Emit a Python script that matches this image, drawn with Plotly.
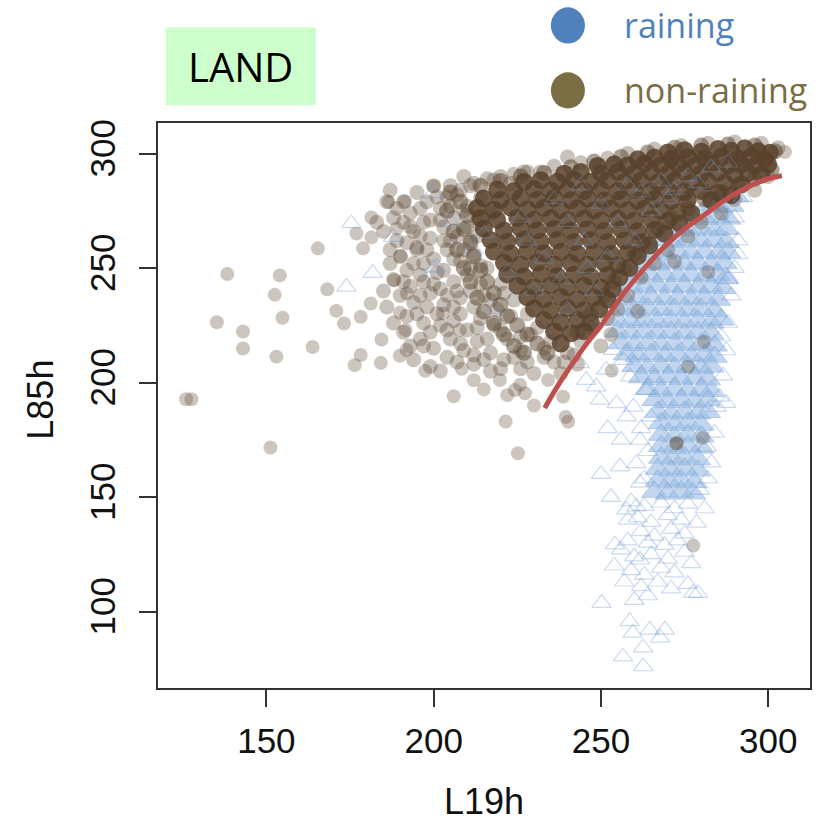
import plotly.graph_objects as go

# ---------------- data ----------------
# non-raining: isolated outliers
nr_sparse = [(126, 192.7), (127.6, 192.7), (135.2, 226.3), (138.3, 247.4), (143, 222.3), (143, 214.9),
             (151.2, 171.6), (152.5, 238.3), (153, 211.3), (154, 246.8), (154.8, 228.3), (163.8, 215.5),
             (165.4, 258.6), (168.2, 240.7), (170.9, 231.3), (173.2, 225.8), (176.4, 207.6), (176.9, 265.1),
             (178.2, 228.7), (178.2, 212), (178.9, 258.6), (181.2, 234.5), (181.4, 272.1), (181.4, 263.4),
             (184.2, 208.6), (184.4, 218.8), (186.5, 278.9), (188.2, 244.7), (188.9, 267.3), (189.9, 230.5),
             (189.9, 211.7), (190.2, 255.2), (191.4, 279.2), (191.6, 222.9), (191.9, 214.2), (192, 238.9),
             (197.5, 205.1), (200, 285.7), (202.8, 230.2), (207.8, 222.9), (208.4, 206), (219.8, 201.1),
             (221.5, 183), (224.3, 196.7), (225.2, 169.1), (227.3, 195.3), (234.2, 201.1), (238.7, 193.8),
             (240.2, 182.9), (239.5, 185), (253.2, 205.1), (276.1, 206.9), (282.1, 248.3), (280.8, 217.8),
             (305, 300.7), (277.6, 128.8), (280.5, 175.9), (272.6, 173.5), (272.6, 173.5), (212, 201),
             (215, 197), (222, 194.5), (225.8, 199), (206, 194), (230, 190)]

# non-raining: body of the cloud
nr_mid = [(186, 279), (191, 279), (195, 283), (200, 286), (204, 281), (208, 284), (212, 287), (216, 289),
          (220, 290), (224, 291), (188, 272), (193, 274), (197, 270), (202, 276), (206, 272), (210, 277),
          (213, 270), (185, 266), (189, 262), (194, 266), (199, 263), (203, 268), (207, 264), (211, 262),
          (190, 255), (195, 258), (200, 254), (204, 258), (208, 253), (212, 256), (188, 245), (192, 249),
          (197, 244), (201, 248), (206, 244), (210, 247), (214, 243), (190, 238), (194, 235), (199, 239),
          (203, 234), (208, 237), (212, 233), (192, 229), (197, 226), (201, 230), (206, 227), (210, 223),
          (214, 228), (191, 222), (196, 219), (200, 215), (205, 219), (209, 214), (213, 218), (217, 213),
          (194, 210), (199, 207), (204, 211), (212, 208), (217, 205), (221, 210), (226, 206),
          (207, 282), (207, 240), (198, 233), (195, 259), (210, 268), (203, 249), (209, 275), (205, 262),
          (228, 292), (236, 294.5), (244, 296), (252, 298), (258, 300), (266, 302), (274, 303.5),
          (282, 304.5), (290, 305), (298, 304.5), (303, 302.5), (240, 298.5), (218, 288.5), (211, 286),
          (218, 225), (222, 219), (226, 214), (229, 221), (233, 215), (236, 209), (240, 213), (244, 218),
          (247, 224), (250, 216), (253, 221), (219, 232), (224, 236), (228, 230), (230, 204), (238, 204),
          (243, 208), (215, 238), (220, 243), (216, 250), (258, 238), (262, 246), (266, 252), (270, 258),
          (276, 264), (280, 270), (286, 274), (290, 280), (296, 284), (300, 290), (255, 232), (252, 228),
          (261, 231), (272, 253),
          (183, 270), (187, 284), (196, 276), (201, 281), (205, 277), (199, 271), (192, 261), (197, 252),
          (202, 241), (206, 233), (211, 240), (214, 251), (209, 258), (203, 262), (196, 247), (193, 242),
          (187, 252), (186, 233), (195, 230), (199, 222), (204, 223), (208, 217), (212, 212), (216, 219),
          (220, 223), (223, 229), (217, 236), (221, 239), (213, 264), (217, 274), (214, 281), (209, 290),
          (205, 286), (223, 287), (232, 292), (227, 292), (215, 210), (220, 206), (224, 211), (228, 209),
          (233, 211), (226, 220), (231, 224), (235, 218), (239, 209), (242, 212),
          (189, 276), (193, 268), (198, 279), (202, 271), (206, 254), (198, 258), (194, 252), (191, 244),
          (196, 238), (200, 243), (204, 238), (208, 230), (202, 225), (197, 216), (193, 216), (188, 226),
          (185, 240), (187, 258), (191, 270), (196, 264), (211, 250), (213, 224), (207, 209), (202, 205)]

# non-raining: fringe of the dense core
nr_edge = [(205, 283), (208, 279), (210, 273), (209, 267), (211, 261), (212, 255), (214, 249), (216, 244),
           (218, 239), (220, 234), (222, 229), (225, 225), (228, 221), (231, 217), (234, 213), (204, 275),
           (206, 266), (207, 258), (209, 250), (211, 244), (213, 237), (215, 231), (218, 226), (221, 221),
           (224, 216), (227, 213), (214, 286), (220, 288), (226, 290), (233, 291.5), (241, 294), (248, 296.5),
           (256, 298.5), (264, 300.5), (272, 302.5), (280, 303.5), (288, 304), (296, 303.5), (302, 301),
           (243, 222), (247, 230), (251, 238), (254, 244), (257, 250), (260, 256), (263, 262), (267, 267),
           (271, 272), (276, 276), (281, 280), (286, 283), (291, 286), (296, 289), (301, 293)]

# non-raining: dark dense core
nr_core = [(270, 300.5), (275, 301.5), (280, 300.8), (285, 302), (289, 301.2), (293, 302.3), (297, 301), (300.5, 300.4),
           (261, 297.5), (266, 298.3), (271, 297.6), (276, 298.4), (281, 297.8), (286, 298.6), (291, 297.9), (295, 298.7), (299, 297.6),
           (249, 294.6), (254, 295.3), (258, 294.8), (263, 295.6), (268, 294.9), (273, 295.4), (278, 294.7), (283, 295.5),
           (288, 294.8), (292, 295.3), (296, 294.6), (300, 295.2),
           (239, 291.2), (244, 292), (250, 291.4), (255, 292.1), (260, 291.3), (265, 291.9), (270, 291.1), (275, 291.8),
           (280, 291.2), (285, 291.7), (290, 290.9), (294, 291.5), (298, 290.8),
           (227, 287.6), (232, 288.4), (237, 287.8), (242, 288.5), (247, 287.7), (252, 288.3), (257, 287.5), (262, 288.2),
           (267, 287.4), (272, 288.1), (277, 287.3), (282, 287.9), (287, 287.2), (292, 286.5),
           (219, 284.3), (224, 283.6), (230, 284.5), (235, 283.8), (240, 284.4), (245, 283.6), (250, 284.2), (255, 283.5),
           (260, 284.1), (265, 283.3), (270, 283.9), (275, 283.2), (280, 283.7), (285, 282.8), (289, 281.8),
           (215, 280.4), (220, 279.7), (226, 280.6), (231, 279.8), (236, 280.5), (241, 279.6), (246, 280.3), (251, 279.5),
           (256, 280.2), (261, 279.4), (266, 280.1), (271, 279.3), (276, 279.8), (283, 279.6),
           (213, 276.2), (218, 275.5), (223, 276.4), (228, 275.6), (233, 276.3), (238, 275.4), (243, 276.1), (248, 275.3),
           (253, 276), (258, 275.2), (263, 275.9), (268, 275.1), (273, 274.6), (277, 274),
           (214, 271.8), (219, 271), (225, 271.9), (230, 271.1), (235, 271.7), (240, 270.9), (245, 271.6), (250, 270.8),
           (255, 271.5), (260, 270.7), (265, 271.3), (270, 270.6), (273.5, 269.5),
           (215, 267.2), (221, 266.4), (226, 267.3), (231, 266.5), (236, 267.1), (241, 266.3), (246, 267), (251, 266.2),
           (256, 266.9), (261, 266.1), (266, 266.6), (269, 265),
           (217, 262.3), (222, 261.5), (227, 262.4), (232, 261.6), (237, 262.2), (242, 261.4), (247, 262.1), (252, 261.3),
           (257, 262), (262, 261.2), (264.5, 259.8),
           (218, 257.2), (223, 256.4), (228, 257.3), (233, 256.5), (238, 257.1), (243, 256.3), (248, 257), (253, 256.2),
           (258, 256.8), (261, 255.2),
           (221, 252.3), (226, 251.5), (231, 252.4), (236, 251.6), (241, 252.2), (246, 251.4), (251, 252.1), (255, 251.3), (258.5, 250),
           (222, 247.2), (227, 246.4), (232, 247.3), (237, 246.5), (242, 247.1), (247, 246.3), (252, 247), (255.5, 245.8),
           (225, 242.3), (230, 241.5), (235, 242.4), (240, 241.6), (245, 242.2), (250, 241.4), (253.5, 240.8),
           (228, 237.2), (233, 236.4), (238, 237.3), (243, 236.5), (248, 237.1), (252, 236.2),
           (230, 232.3), (235, 231.5), (240, 232.4), (245, 231.6), (249.5, 232),
           (233, 227.2), (238, 226.4), (243, 227.3), (247, 226.2),
           (236, 222.3), (241, 221.5), (245, 222.4), (238, 217)]

# raining: dense body
r_core = [(287, 282.5), (290.5, 281.3),
          (282, 277.4), (285.5, 276.6), (289, 277.2),
          (277, 272.3), (281, 271.5), (284.5, 272.4), (288, 271.6),
          (272, 267.2), (276, 266.4), (280, 267.3), (284, 266.5), (287.5, 267.1),
          (268, 262.3), (272, 261.5), (276, 262.4), (280, 261.6), (284, 262.2), (287.5, 261.4),
          (265, 257.2), (269, 256.4), (273, 257.3), (277, 256.5), (281, 257.1), (285, 256.3), (288, 257),
          (263, 252.3), (267, 251.5), (271, 252.4), (275, 251.6), (279, 252.2), (283, 251.4), (287, 252.1),
          (261, 247.2), (265, 246.4), (269, 247.3), (273, 246.5), (277, 247.1), (281, 246.3), (285, 247), (287.5, 245.8),
          (259, 242.3), (263, 241.5), (267, 242.4), (271, 241.6), (275, 242.2), (279, 241.4), (283, 242.1), (286.5, 241.3),
          (257, 237.2), (261, 236.4), (265, 237.3), (269, 236.5), (273, 237.1), (277, 236.3), (281, 237), (285, 236.2),
          (256, 232.3), (260, 231.5), (264, 232.4), (268, 231.6), (272, 232.2), (276, 231.4), (280, 232.1), (284, 231.3),
          (255, 227.2), (259, 226.4), (263, 227.3), (267, 226.5), (271, 227.1), (275, 226.3), (279, 227), (283, 226.2), (286, 227.5),
          (255, 222.3), (259, 221.5), (263, 222.4), (267, 221.6), (271, 222.2), (275, 221.4), (279, 222.1), (283, 221.3),
          (256, 217.2), (260, 216.4), (264, 217.3), (268, 216.5), (272, 217.1), (276, 216.3), (280, 217), (284, 216.2),
          (257.5, 212.3), (261, 211.5), (265, 212.4), (269, 211.6), (273, 212.2), (277, 211.4), (281, 212.1), (284, 211.3),
          (260, 207.2), (264, 206.4), (268, 207.3), (272, 206.5), (276, 207.1), (280, 206.3), (283, 207),
          (262, 202.3), (266, 201.5), (270, 202.4), (274, 201.6), (278, 202.2), (282, 201.4),
          (264, 197.2), (268, 196.4), (272, 197.3), (276, 196.5), (280, 197.1), (283, 196.3),
          (266, 192.3), (270, 191.5), (274, 192.4), (278, 191.6), (282, 192.2),
          (267, 187.2), (271, 186.4), (275, 187.3), (279, 186.5), (282, 187.1),
          (268, 182.3), (272, 181.5), (276, 182.4), (280, 181.6),
          (268, 177.2), (272, 176.4), (276, 177.3), (280, 176.5),
          (268, 172.3), (272, 171.5), (276, 172.4), (280, 171.6),
          (268, 167.2), (271.5, 166.4), (275, 167.3), (279, 166.5),
          (267, 162.3), (271, 161.5), (275, 162.4), (279, 161.6),
          (267, 157.2), (270.5, 156.4), (274, 157.3), (278, 156.5),
          (266, 152.3), (270, 151.5), (274, 152.4), (277.5, 151.6)]

# raining: scattered open triangles
r_sparse = [(259, 148), (263, 146), (268, 147.5), (272, 145), (276, 147), (261, 141), (265, 139), (270, 142),
            (274, 140), (262, 135), (266, 133), (271, 136), (275, 134), (258, 131), (264, 130), (269, 129),
            (273, 131), (256, 127), (260, 124), (265, 125), (270, 123), (275, 126), (254, 120), (259, 118),
            (263, 116), (268, 119), (272, 117), (277, 121), (257, 113), (262, 111), (267, 113), (271, 110),
            (276, 112), (279, 108), (260, 105), (264, 107),
            (250.2, 103.7), (258.6, 95.7), (259.5, 90.7), (264.6, 92), (269.1, 92), (256.6, 80.3), (262.6, 76),
            (262.6, 84.2), (267.7, 88.5),
            (256.7, 209.8), (258.7, 202.5), (254.7, 190.9), (259.7, 189.4), (257.7, 185.1), (263.6, 196.7),
            (261.7, 174.9), (248.6, 198.2), (245.6, 201.1), (251.6, 205.5), (253.6, 214.2), (243.7, 208.4),
            (249.7, 192.4), (255.7, 163.3), (261.7, 156.2), (260.6, 164.7), (257.6, 144.4), (260.6, 145.8),
            (258.1, 140), (254.2, 129.2), (261.7, 122.6), (252, 180), (256, 175), (250, 160), (253, 150),
            (262, 180), (264, 170), (263, 158), (265, 185),
            (290, 272), (292.5, 281), (291, 262), (290, 250), (289, 238), (288, 226), (287.5, 214), (286.5, 203),
            (285.5, 193.7), (287.5, 191), (284.6, 189.3), (281.6, 171.9), (279.6, 153), (278.6, 138.7),
            (277.5, 108), (284, 178), (283, 165), (282, 158), (281, 145), (286, 220), (288, 245), (291, 256),
            (233, 254), (240, 270), (245, 262), (250, 278), (255, 270), (262, 283), (268, 288), (276, 290),
            (283, 294), (288, 296), (228, 262), (222, 248), (246, 250), (252, 255), (258, 286), (270, 280),
            (238, 245), (230, 240), (260, 262), (265, 275), (272, 284), (279, 287), (244, 286), (236, 280),
            (226, 272), (215, 265), (200, 250), (199.7, 282.6), (187.9, 263.5), (181.8, 247.8), (175.4, 269.5),
            (173.9, 241.8), (200.9, 250.4), (205, 270), (212, 258), (218, 232), (240, 232), (248, 240)]

# fitted separation curve
curve_x = [233.2, 237.5, 242.2, 246.0, 249.7, 253.5, 257.1, 261.0, 264.6, 268.4, 272.1, 275.8, 279.6, 283.3,
           287.0, 290.8, 294.5, 297.5, 300.5, 302.5, 304.1]
curve_y = [188.9, 199.5, 209.8, 217.5, 224.2, 232.0, 239.5, 246.5, 252.6, 258.5, 263.5, 268.0, 271.8, 275.8,
           279.6, 283.0, 285.7, 287.8, 289.2, 289.9, 290.3]

x_ticks = [150, 200, 250, 300]
y_ticks = [100, 150, 200, 250, 300]
legend_labels = ["raining", "non-raining"]

# ---------------- figure ----------------
def xs(p):
    return [a for a, _ in p]


def ys(p):
    return [b for _, b in p]


BROWN = "rgb(88,65,42)"
fig = go.Figure()

fig.add_trace(go.Scatter(x=xs(r_core), y=ys(r_core), mode="markers", hoverinfo="skip",
                         marker=dict(symbol="triangle-up", size=22, color="rgb(155,190,229)",
                                     opacity=0.6, line=dict(width=1, color="rgb(125,165,215)"))))
fig.add_trace(go.Scatter(x=xs(nr_sparse), y=ys(nr_sparse), mode="markers", hoverinfo="skip",
                         marker=dict(symbol="circle", size=14, color=BROWN, opacity=0.3, line=dict(width=0))))
fig.add_trace(go.Scatter(x=xs(nr_mid), y=ys(nr_mid), mode="markers", hoverinfo="skip",
                         marker=dict(symbol="circle", size=15, color=BROWN, opacity=0.32, line=dict(width=0))))
fig.add_trace(go.Scatter(x=xs(nr_edge), y=ys(nr_edge), mode="markers", hoverinfo="skip",
                         marker=dict(symbol="circle", size=16, color=BROWN, opacity=0.5, line=dict(width=0))))
fig.add_trace(go.Scatter(x=xs(nr_core), y=ys(nr_core), mode="markers", hoverinfo="skip",
                         marker=dict(symbol="circle", size=18, color=BROWN, opacity=0.85, line=dict(width=0))))
fig.add_trace(go.Scatter(x=xs(r_sparse), y=ys(r_sparse), mode="markers", hoverinfo="skip",
                         marker=dict(symbol="triangle-up-open", size=17, color="rgb(110,150,210)",
                                     opacity=0.35, line=dict(width=1.2))))
fig.add_trace(go.Scatter(x=curve_x, y=curve_y, mode="lines", hoverinfo="skip",
                         line=dict(color="#c0504d", width=5, shape="spline")))

axis_common = dict(showline=True, mirror=True, linecolor="#333", linewidth=2, ticks="outside",
                   ticklen=17, tickwidth=2, tickcolor="#333", showgrid=False, zeroline=False,
                   tickfont=dict(family="Liberation Sans, Arial", size=35, color="#111"))

fig.update_layout(
    width=825, height=829, margin=dict(l=158, r=15, t=123, b=141),
    paper_bgcolor="white", plot_bgcolor="white", showlegend=False,
    xaxis=dict(range=[117.6, 312.5], tickvals=x_ticks, ticklabelstandoff=4, **axis_common),
    yaxis=dict(range=[66.6, 313.35], tickvals=y_ticks, tickangle=-90, ticklabelstandoff=10, **axis_common),
)

# LAND box
fig.add_shape(type="rect", xref="paper", yref="paper", x0=0.0118, x1=0.242, y0=1.0313, y1=1.1692,
              fillcolor="#ccffcc", line=dict(width=0), layer="below")
fig.add_annotation(text="LAND", xref="paper", yref="paper", x=0.1269, y=1.1003, showarrow=False,
                   xanchor="center", yanchor="middle",
                   font=dict(family="Open Sans", size=40, color="black"))

# legend
leg_colors = ["#4f81bd", "#7a6e45"]
leg_y = [1.1727, 1.0578]
for lab, col, yy in zip(legend_labels, leg_colors, leg_y):
    fig.add_shape(type="circle", xref="paper", yref="paper", x0=0.6026, x1=0.6548,
                  y0=yy - 0.032, y1=yy + 0.032, fillcolor=col, line=dict(width=0))
    fig.add_annotation(text=lab, xref="paper", yref="paper", x=0.7115, y=yy, showarrow=False,
                       xanchor="left", yanchor="middle",
                       font=dict(family="Open Sans", size=34, color=col))

# axis titles
fig.add_annotation(text="L19h", xref="paper", yref="paper", x=0.5, y=-0.201, showarrow=False,
                   xanchor="center", yanchor="middle",
                   font=dict(family="Liberation Sans, Arial", size=36, color="#111"))
fig.add_annotation(text="L85h", xref="paper", yref="paper", x=-0.1815, y=0.5097, showarrow=False,
                   textangle=-90, xanchor="center", yanchor="middle",
                   font=dict(family="Liberation Sans, Arial", size=36, color="#111"))

fig.write_html("out.html")
